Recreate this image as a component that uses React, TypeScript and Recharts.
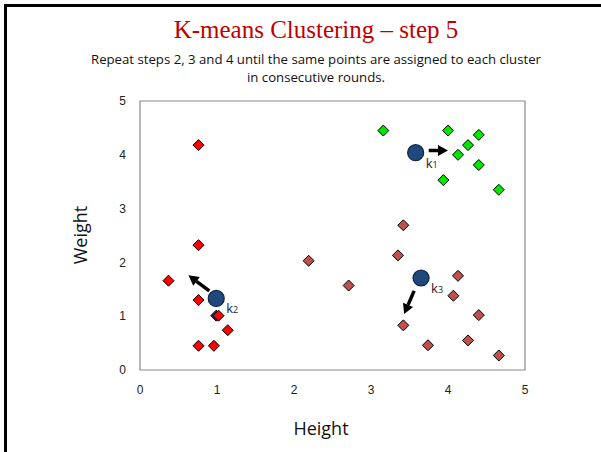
import { ReferenceArea, ReferenceLine, Scatter, ScatterChart, XAxis, YAxis } from 'recharts';

const ticks = [0, 1, 2, 3, 4, 5];

// cluster members (Height, Weight)
const clusterGreen = [
  { x: 3.16, y: 4.45 },
  { x: 4.0, y: 4.45 },
  { x: 4.4, y: 4.37 },
  { x: 4.26, y: 4.18 },
  { x: 4.13, y: 4.0 },
  { x: 4.4, y: 3.81 },
  { x: 3.94, y: 3.53 },
  { x: 4.66, y: 3.35 },
];
const clusterRed = [
  { x: 0.76, y: 4.18 },
  { x: 0.76, y: 2.32 },
  { x: 0.37, y: 1.66 },
  { x: 0.76, y: 1.3 },
  { x: 1.02, y: 1.01 },
  { x: 1.14, y: 0.74 },
  { x: 0.76, y: 0.45 },
  { x: 0.96, y: 0.45 },
];
const clusterBrown = [
  { x: 2.19, y: 2.03 },
  { x: 2.71, y: 1.57 },
  { x: 3.42, y: 2.69 },
  { x: 3.35, y: 2.13 },
  { x: 4.13, y: 1.75 },
  { x: 4.07, y: 1.38 },
  { x: 4.4, y: 1.02 },
  { x: 3.42, y: 0.83 },
  { x: 3.74, y: 0.46 },
  { x: 4.26, y: 0.55 },
  { x: 4.66, y: 0.27 },
];
const hiddenPoint = [{ x: 0.99, y: 1.01 }];

const centroids = [
  { x: 3.58, y: 4.04, label: '1' },
  { x: 0.99, y: 1.33, label: '2' },
  { x: 3.65, y: 1.71, label: '3' },
];

// centroid movement arrows
const arrows = [
  { x1: 3.75, y1: 4.08, x2: 4.0, y2: 4.08 },
  { x1: 0.9, y1: 1.47, x2: 0.63, y2: 1.76 },
  { x1: 3.56, y1: 1.47, x2: 3.43, y2: 1.04 },
];

const Diamond = (props: any) => {
  const { cx, cy, fill } = props;
  const r = 5.5;
  return (
    <polygon
      points={`${cx},${cy - r} ${cx + r},${cy} ${cx},${cy + r} ${cx - r},${cy}`}
      fill={fill}
      stroke='#000'
      strokeWidth={1}
    />
  );
};

const Centroid = (props: any) => {
  const { cx, cy, payload } = props;
  return (
    <g>
      <circle cx={cx} cy={cy} r={8} fill='#1F497D' stroke='#0F243E' strokeWidth={1.2} />
      <text x={cx + 10} y={cy + 15} fontSize={13} fill='#222' fontFamily='Open Sans, sans-serif'>
        k
        <tspan fontSize={9}>{payload.label}</tspan>
      </text>
    </g>
  );
};

const Arrow = (props: any) => {
  const { x1, y1, x2, y2 } = props;
  const a = Math.atan2(y2 - y1, x2 - x1);
  const len = 10;
  const w = 5.5;
  const bx = x2 - len * Math.cos(a);
  const by = y2 - len * Math.sin(a);
  const px = -Math.sin(a) * w;
  const py = Math.cos(a) * w;
  return (
    <g>
      <line x1={x1} y1={y1} x2={bx} y2={by} stroke='#000' strokeWidth={3.5} />
      <polygon points={`${x2},${y2} ${bx + px},${by + py} ${bx - px},${by - py}`} fill='#000' />
    </g>
  );
};

const tickStyle = { fontSize: 12, fill: '#222', fontFamily: 'Liberation Sans, Arial, sans-serif' };

export default function App() {
  return (
    <div style={{ position: 'absolute', left: 0, top: 0, width: 601, height: 452, background: '#fff' }}>
      <div
        style={{
          position: 'absolute',
          left: 4,
          top: 4,
          width: 597,
          height: 448,
          borderTop: '3px solid #000',
          borderLeft: '3px solid #000',
        }}
      />
      <div
        style={{
          position: 'absolute',
          left: 0,
          top: 15,
          width: 632,
          textAlign: 'center',
          fontFamily: 'Liberation Serif, serif',
          fontSize: 25,
          lineHeight: '30px',
          color: '#C00000',
        }}
      >
        K-means Clustering – step 5
      </div>
      <div
        style={{
          position: 'absolute',
          left: 0,
          top: 50,
          width: 632,
          textAlign: 'center',
          fontFamily: 'Open Sans, sans-serif',
          fontSize: 13.2,
          lineHeight: '18px',
          color: '#111',
        }}
      >
        Repeat steps 2, 3 and 4 until the same points are assigned to each cluster
        <br />
        in consecutive rounds.
      </div>
      <ScatterChart
        width={601}
        height={452}
        margin={{ top: 101, right: 76, bottom: 32, left: 120 }}
        style={{ position: 'absolute', left: 0, top: 0 }}
      >
        <XAxis
          type='number'
          dataKey='x'
          domain={[0, 5]}
          ticks={ticks}
          height={50}
          axisLine={false}
          tickLine={false}
          tickMargin={9}
          tick={tickStyle}
        />
        <YAxis
          type='number'
          dataKey='y'
          domain={[0, 5]}
          ticks={ticks}
          width={20}
          axisLine={false}
          tickLine={false}
          tickMargin={8}
          tick={tickStyle}
        />
        <ReferenceArea x1={0} x2={5} y1={0} y2={5} fill='none' stroke='#8A8A8A' strokeWidth={1.2} fillOpacity={0} />
        <Scatter data={hiddenPoint} fill='#1F2F7D' shape={Diamond} isAnimationActive={false} />
        <Scatter data={clusterRed} fill='#FF0000' shape={Diamond} isAnimationActive={false} />
        <Scatter data={clusterBrown} fill='#C0504D' shape={Diamond} isAnimationActive={false} />
        <Scatter data={clusterGreen} fill='#00E600' shape={Diamond} isAnimationActive={false} />
        {arrows.map((a, i) => (
          <ReferenceLine
            key={i}
            segment={[
              { x: a.x1, y: a.y1 },
              { x: a.x2, y: a.y2 },
            ]}
            shape={Arrow}
          />
        ))}
        <Scatter data={centroids} fill='#1F497D' shape={Centroid} isAnimationActive={false} />
      </ScatterChart>
      <div
        style={{
          position: 'absolute',
          left: 280,
          top: 416,
          width: 82,
          textAlign: 'center',
          fontFamily: 'Open Sans, sans-serif',
          fontSize: 18,
          lineHeight: '24px',
          color: '#111',
        }}
      >
        Height
      </div>
      <div
        style={{
          position: 'absolute',
          left: 40,
          top: 223,
          width: 80,
          textAlign: 'center',
          fontFamily: 'Open Sans, sans-serif',
          fontSize: 18,
          lineHeight: '24px',
          color: '#111',
          transform: 'rotate(-90deg)',
        }}
      >
        Weight
      </div>
    </div>
  );
}
